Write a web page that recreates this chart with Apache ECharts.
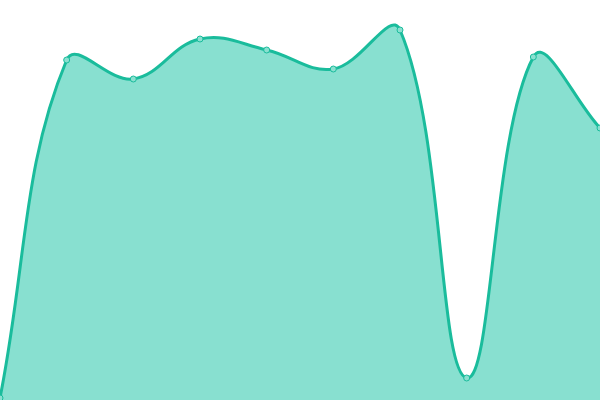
<!DOCTYPE html>
<html>
<head>
<meta charset="utf-8">
<script src="https://cdn.jsdelivr.net/npm/echarts@6/dist/echarts.min.js"></script>
<style>
  html, body { margin: 0; padding: 0; background: #fff; }
  #chart { width: 600px; height: 400px; }
</style>
</head>
<body>
<div id="chart"></div>
<script>
var categories = ['1', '2', '3', '4', '5', '6', '7', '8', '9', '10'];
var values = [2, 340, 321, 361, 350, 331, 370, 22, 343, 272];

var lineColor = '#1abc9c';
var areaColor = '#88e0d0';
var tension = 0.4;

function dist(a, b) {
  return Math.sqrt((a[0] - b[0]) * (a[0] - b[0]) + (a[1] - b[1]) * (a[1] - b[1]));
}

// cardinal-style spline through the pixel points (control points may overshoot)
function splinePath(pts, t, w, h) {
  var n = pts.length;
  var cps = pts.map(function (p, i) {
    var prev = pts[Math.max(i - 1, 0)];
    var next = pts[Math.min(i + 1, n - 1)];
    var d01 = dist(prev, p), d12 = dist(p, next);
    var s01 = d01 / (d01 + d12) || 0;
    var s12 = d12 / (d01 + d12) || 0;
    var fa = t * s01, fb = t * s12;
    var clamp = function (v, lo, hi) { return Math.max(lo, Math.min(hi, v)); };
    return {
      prev: [clamp(p[0] - fa * (next[0] - prev[0]), 0, w), clamp(p[1] - fa * (next[1] - prev[1]), 0, h)],
      next: [clamp(p[0] + fb * (next[0] - prev[0]), 0, w), clamp(p[1] + fb * (next[1] - prev[1]), 0, h)]
    };
  });
  var d = 'M' + pts[0][0] + ',' + pts[0][1];
  for (var i = 1; i < n; i++) {
    d += ' C' + cps[i - 1].next[0] + ',' + cps[i - 1].next[1] + ' ' +
      cps[i].prev[0] + ',' + cps[i].prev[1] + ' ' + pts[i][0] + ',' + pts[i][1];
  }
  return d;
}

var chart = echarts.init(document.getElementById('chart'));
chart.setOption({
  animation: false,
  grid: { left: 0, right: 0, top: 0, bottom: 0 },
  xAxis: {
    type: 'category',
    boundaryGap: false,
    data: categories,
    show: false
  },
  yAxis: {
    type: 'value',
    min: 0,
    max: 400,
    show: false
  },
  series: [{
    type: 'custom',
    data: values.map(function (v, i) { return [i, v]; }),
    encode: { x: 0, y: 1 },
    clip: true,
    z: 1,
    renderItem: function (params, api) {
      if (params.dataIndex !== 0) return;
      var pts = values.map(function (v, i) { return api.coord([i, v]); });
      var base = api.coord([0, 0])[1];
      var w = params.coordSys.x + params.coordSys.width;
      var h = params.coordSys.y + params.coordSys.height;
      var line = splinePath(pts, tension, w, h);
      var area = line + ' L' + pts[pts.length - 1][0] + ',' + base +
        ' L' + pts[0][0] + ',' + base + ' Z';
      return {
        type: 'group',
        children: [{
          type: 'path',
          shape: { pathData: area },
          style: { fill: areaColor, stroke: null }
        }, {
          type: 'path',
          shape: { pathData: line },
          style: { fill: null, stroke: lineColor, lineWidth: 3 }
        }]
      };
    }
  }, {
    type: 'scatter',
    data: values.map(function (v, i) { return [i, v]; }),
    symbol: 'circle',
    symbolSize: 6,
    z: 3,
    itemStyle: { color: '#8ae0d0', borderColor: lineColor, borderWidth: 1, opacity: 1 }
  }]
});
</script>
</body>
</html>
